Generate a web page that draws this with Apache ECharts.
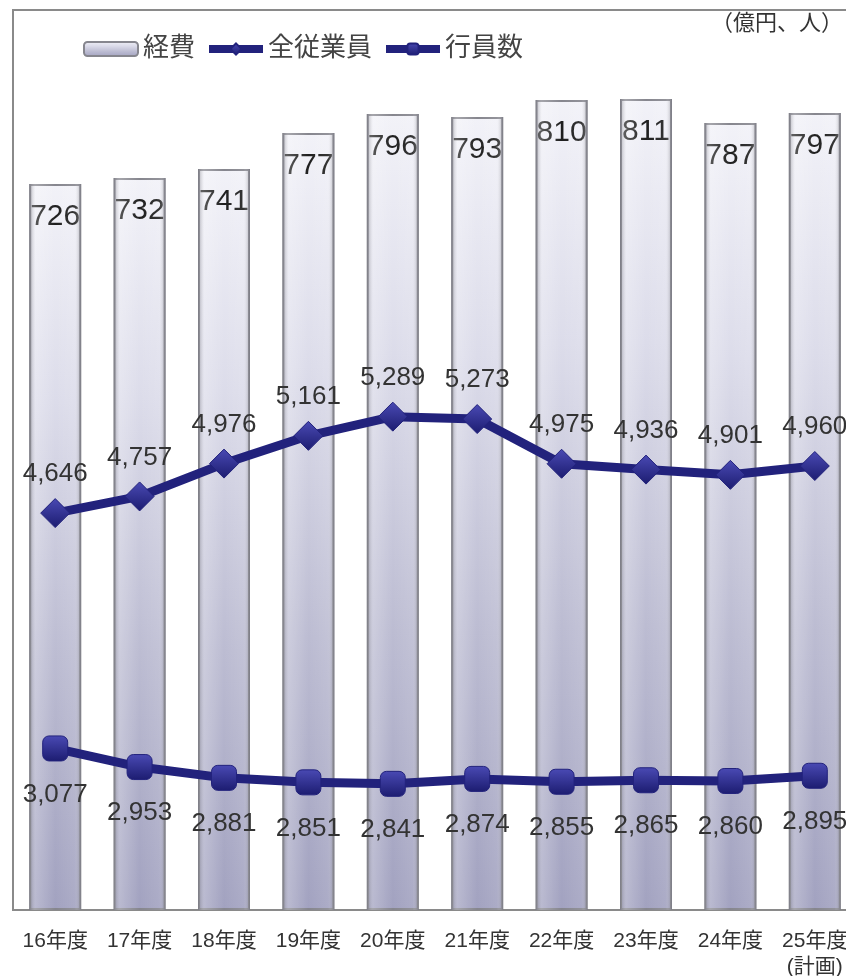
<!DOCTYPE html>
<html>
<head>
<meta charset="utf-8">
<script src="https://cdn.jsdelivr.net/npm/echarts@6/dist/echarts.min.js"></script>
<style>
html,body{margin:0;padding:0;background:#fff;}
#c{width:846px;height:976px;}
</style>
</head>
<body>
<div id="c"></div>
<script>
var categories = ['16年度','17年度','18年度','19年度','20年度','21年度','22年度','23年度','24年度','25年度\n(計画)'];
var expenses = [726, 732, 741, 777, 796, 793, 810, 811, 787, 797];
var allEmployees = [4646, 4757, 4976, 5161, 5289, 5273, 4975, 4936, 4901, 4960];
var bankStaff = [3077, 2953, 2881, 2851, 2841, 2874, 2855, 2865, 2860, 2895];
var unitLabel = '（億円、人）';

var FONT = "'Liberation Sans', 'Noto Sans CJK JP', sans-serif";
var chart = echarts.init(document.getElementById('c'), null, {renderer: 'canvas'});
function fmt(p){ return Number(p.value).toLocaleString('en-US'); }
var navy = '#22227c';
var markerFill = new echarts.graphic.LinearGradient(0,0,0,1,[
  {offset:0,color:'#4a4ab4'},{offset:1,color:'#1c1c70'}]);

chart.setOption({
  backgroundColor: '#ffffff',
  animation: false,
  textStyle: {fontFamily: FONT},
  grid: {left: 13, right: -11, top: 10, bottom: 66, show: true, borderColor: '#8a8a8a', borderWidth: 2,
         outerBoundsMode: 'none', containLabel: false},
  legend: {
    data: [
      {name: '経費'},
      {name: '全従業員', lineStyle: {width: 8}},
      {name: '行員数', lineStyle: {width: 8}}
    ],
    left: 83, top: 36, padding: 0,
    itemWidth: 54, itemHeight: 14, itemGap: 10,
    textStyle: {fontSize: 26, color: '#444', fontFamily: FONT}
  },
  graphic: [{
    type: 'text', right: 3, top: 13,
    style: {text: unitLabel, fontSize: 22, fill: '#333', fontFamily: FONT}
  }],
  xAxis: {
    type: 'category', data: categories, boundaryGap: true,
    axisLine: {lineStyle: {color: '#8a8a8a', width: 2}},
    axisTick: {inside: true, length: 5, lineStyle: {color: '#8a8a8a'}},
    axisLabel: {interval: 0, hideOverlap: false, margin: 18, fontSize: 21, color: '#333', lineHeight: 26, fontFamily: FONT}
  },
  yAxis: [
    {type: 'value', min: 0, max: 900, show: false, splitLine: {show: false}},
    {type: 'value', min: 2000, max: 8000, show: false, splitLine: {show: false}}
  ],
  series: [
    {
      name: '経費', type: 'bar', data: expenses, barWidth: 52, z: 2,
      itemStyle: {
        color: new echarts.graphic.LinearGradient(0,0,0,1,[
          {offset:0,color:'#f2f2f8'},{offset:0.3,color:'#dcdcea'},{offset:0.65,color:'#bcbcd2'},{offset:1,color:'#a2a2c0'}]),
        borderColor: '#86868e', borderWidth: 2
      },
      label: {show: true, position: 'insideTop', distance: 18, fontSize: 30, color: '#1e1e1e', fontFamily: FONT}
    },
    {
      name: '経費shade', type: 'bar', data: expenses, barWidth: 52, barGap: '-100%', z: 3, silent: true,
      itemStyle: {
        color: new echarts.graphic.LinearGradient(0,0,1,0,[
          {offset:0,color:'rgba(110,110,120,0.55)'},{offset:0.12,color:'rgba(255,255,255,0.25)'},
          {offset:0.5,color:'rgba(255,255,255,0.0)'},{offset:0.88,color:'rgba(255,255,255,0.1)'},
          {offset:1,color:'rgba(110,110,120,0.55)'}])
      }
    },
    {
      name: '全従業員', type: 'line', yAxisIndex: 1, data: allEmployees, z: 5,
      symbol: 'diamond', symbolSize: 29,
      lineStyle: {color: navy, width: 9},
      itemStyle: {color: markerFill, borderColor: navy, borderWidth: 1},
      label: {show: true, position: 'top', distance: 11, fontSize: 26, color: '#333', formatter: fmt, fontFamily: FONT}
    },
    {
      name: '行員数', type: 'line', yAxisIndex: 1, data: bankStaff, z: 5,
      symbol: 'roundRect', symbolSize: 25,
      lineStyle: {color: navy, width: 9},
      itemStyle: {color: markerFill, borderColor: navy, borderWidth: 1},
      label: {show: true, position: 'bottom', distance: 20, fontSize: 26, color: '#333', formatter: fmt, fontFamily: FONT}
    }
  ]
});
</script>
</body>
</html>
